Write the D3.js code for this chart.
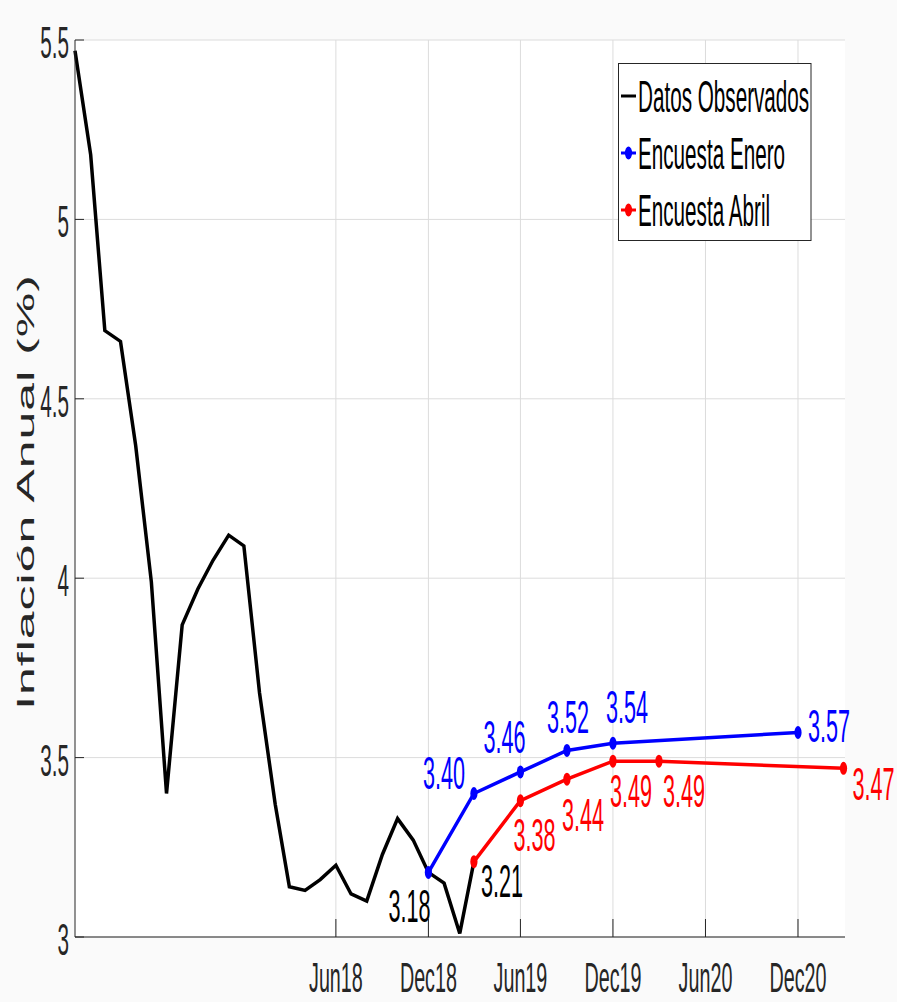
<!DOCTYPE html>
<html>
<head>
<meta charset="utf-8">
<script src="https://cdn.jsdelivr.net/npm/d3@7"></script>
<style>
  html, body { margin: 0; padding: 0; background: #fafafa; }
  svg { display: block; }
  text { font-family: "Liberation Sans", Arial, Helvetica, sans-serif; }
</style>
</head>
<body>
<div id="chart"></div>
<script>
// ---------------- data ----------------
const obsDates = ["2017-01","2017-02","2017-03","2017-04","2017-05","2017-06","2017-07","2017-08","2017-09","2017-10","2017-11","2017-12",
                  "2018-01","2018-02","2018-03","2018-04","2018-05","2018-06","2018-07","2018-08","2018-09","2018-10","2018-11","2018-12",
                  "2019-01","2019-02","2019-03"];
const obsValues = [5.47,5.18,4.69,4.66,4.37,3.99,3.40,3.87,3.97,4.05,4.12,4.09,
                   3.68,3.37,3.14,3.13,3.16,3.20,3.12,3.10,3.23,3.33,3.27,3.18,
                   3.15,3.01,3.21];
const eneroDates  = ["2018-12","2019-03","2019-06","2019-09","2019-12","2020-12"];
const eneroValues = [3.18,3.40,3.46,3.52,3.54,3.57];
const abrilDates  = ["2019-03","2019-06","2019-09","2019-12","2020-03","2021-03"];
const abrilValues = [3.21,3.38,3.44,3.49,3.49,3.47];
const xTickDates  = ["2018-06","2018-12","2019-06","2019-12","2020-06","2020-12"];
const xTickLabels = ["Jun18","Dec18","Jun19","Dec19","Jun20","Dec20"];
const yTicks = [3,3.5,4,4.5,5,5.5];
const yTickLabels = ["3","3.5","4","4.5","5","5.5"];
const seriesNames = ["Datos Observados","Encuesta Enero","Encuesta Abril"];
const yTitle = "Inflación Anual (%)";

// label placement (offset of text start/baseline from the point, px)
const eneroLabelOffsets = [null,[-51,-4],[-37,-19],[-20,-17],[-7,-20],[10,10]];
const abrilLabelOffsets = [[7,35],[-7,50],[-5,52],[-3,46],[4,46],[9,32]];
const obsLabel = { index: 23, offset: [-40,50] };  // 3.18 (Dec18), black

// ---------------- layout ----------------
const W = 897, H = 1002;
const SX = 0.47; // horizontal glyph compression
const pLeft = 75, pRight = 843.5, pTop = 40, pBottom = 937, gridRight = 845;
const parse = d3.timeParse("%Y-%m");

const x = d3.scaleTime().domain([parse("2017-01"), parse("2021-03")]).range([pLeft, pRight]);
const y = d3.scaleLinear().domain([3, 5.5]).range([pBottom, pTop]);

const svg = d3.select("#chart").append("svg").attr("width", W).attr("height", H);

svg.append("rect").attr("x", pLeft).attr("y", pTop).attr("width", gridRight - pLeft).attr("height", pBottom - pTop).attr("fill", "#ffffff");

function txt(g, px, py, s, o = {}) {
  return g.append("text")
    .attr("transform", `translate(${px},${py}) scale(${SX},1)`)
    .attr("text-anchor", o.anchor || "start")
    .attr("font-size", o.size || 44)
    .attr("fill", o.fill || "#000")
    .text(s);
}

// grid
const grid = svg.append("g");
grid.selectAll("line.h").data(yTicks).join("line")
  .attr("x1", pLeft).attr("x2", gridRight).attr("y1", d => y(d)).attr("y2", d => y(d))
  .attr("stroke", "#dcdcdc").attr("stroke-width", 1);
grid.selectAll("line.v").data(xTickDates).join("line")
  .attr("x1", d => x(parse(d))).attr("x2", d => x(parse(d))).attr("y1", pTop).attr("y2", pBottom)
  .attr("stroke", "#dcdcdc").attr("stroke-width", 1);

// lines
const lineGen = d3.line().x(d => x(d[0])).y(d => y(d[1]));
const obs = obsDates.map((d, i) => [parse(d), obsValues[i]]);
const ene = eneroDates.map((d, i) => [parse(d), eneroValues[i]]);
const abr = abrilDates.map((d, i) => [parse(d), abrilValues[i]]);

svg.append("path").datum(obs).attr("d", lineGen).attr("fill", "none")
  .attr("stroke", "#000").attr("stroke-width", 3.5).attr("stroke-linejoin", "miter");
svg.append("path").datum(ene).attr("d", lineGen).attr("fill", "none")
  .attr("stroke", "#0000ff").attr("stroke-width", 3.5);
svg.append("path").datum(abr).attr("d", lineGen).attr("fill", "none")
  .attr("stroke", "#ff0000").attr("stroke-width", 3.5);

svg.selectAll("ellipse.e").data(ene).join("ellipse")
  .attr("cx", d => x(d[0])).attr("cy", d => y(d[1])).attr("rx", 3.6).attr("ry", 6.5).attr("fill", "#0000ff");
svg.selectAll("ellipse.a").data(abr).join("ellipse")
  .attr("cx", d => x(d[0])).attr("cy", d => y(d[1])).attr("rx", 3.6).attr("ry", 6.5).attr("fill", "#ff0000");

// value labels
const labels = svg.append("g");
ene.forEach((d, i) => {
  const o = eneroLabelOffsets[i]; if (!o) return;
  txt(labels, x(d[0]) + o[0], y(d[1]) + o[1], d[1].toFixed(2), { size: 46, fill: "#0000ff" });
});
abr.forEach((d, i) => {
  const o = abrilLabelOffsets[i];
  txt(labels, x(d[0]) + o[0], y(d[1]) + o[1], d[1].toFixed(2), { size: 46, fill: i === 0 ? "#000" : "#ff0000" });
});
{
  const d = obs[obsLabel.index];
  txt(labels, x(d[0]) + obsLabel.offset[0], y(d[1]) + obsLabel.offset[1], d[1].toFixed(2), { size: 46, fill: "#000" });
}

// axes
const ax = svg.append("g").attr("stroke", "#262626").attr("stroke-width", 1);
ax.append("line").attr("x1", pLeft).attr("x2", pLeft).attr("y1", pTop).attr("y2", pBottom);
ax.append("line").attr("x1", pLeft).attr("x2", gridRight).attr("y1", pBottom).attr("y2", pBottom);
ax.selectAll("line.yt").data(yTicks).join("line")
  .attr("x1", pLeft).attr("x2", pLeft + 9).attr("y1", d => y(d)).attr("y2", d => y(d));
ax.selectAll("line.xt").data(xTickDates).join("line")
  .attr("x1", d => x(parse(d))).attr("x2", d => x(parse(d))).attr("y1", pBottom).attr("y2", pBottom - 18);

const tl = svg.append("g");
yTicks.forEach((v, i) => txt(tl, 69, y(v) + 18, yTickLabels[i], { anchor: "end", size: 44, fill: "#262626" }));
xTickDates.forEach((d, i) => txt(tl, x(parse(d)), 992, xTickLabels[i], { anchor: "middle", size: 42, fill: "#262626" }));

// y title
svg.append("text")
  .attr("transform", `translate(34,492) rotate(-90) scale(1,${SX})`)
  .attr("text-anchor", "middle").attr("font-size", 50).attr("fill", "#262626")
  .attr("letter-spacing", 1)
  .text(yTitle);

// legend
const lg = svg.append("g");
lg.append("rect").attr("x", 618.5).attr("y", 63.5).attr("width", 192.5).attr("height", 177)
  .attr("fill", "#fff").attr("stroke", "#262626").attr("stroke-width", 1);
const legColors = ["#000", "#0000ff", "#ff0000"];
const legBase = [112, 169, 226];
seriesNames.forEach((n, i) => {
  const cy = legBase[i] - 16;
  lg.append("line").attr("x1", 621).attr("x2", 636).attr("y1", cy).attr("y2", cy)
    .attr("stroke", legColors[i]).attr("stroke-width", 3);
  if (i > 0) lg.append("ellipse").attr("cx", 628.5).attr("cy", cy).attr("rx", 3.6).attr("ry", 6.5).attr("fill", legColors[i]);
  txt(lg, 638, legBase[i], n, { size: 44, fill: "#000" });
});
</script>
</body>
</html>
